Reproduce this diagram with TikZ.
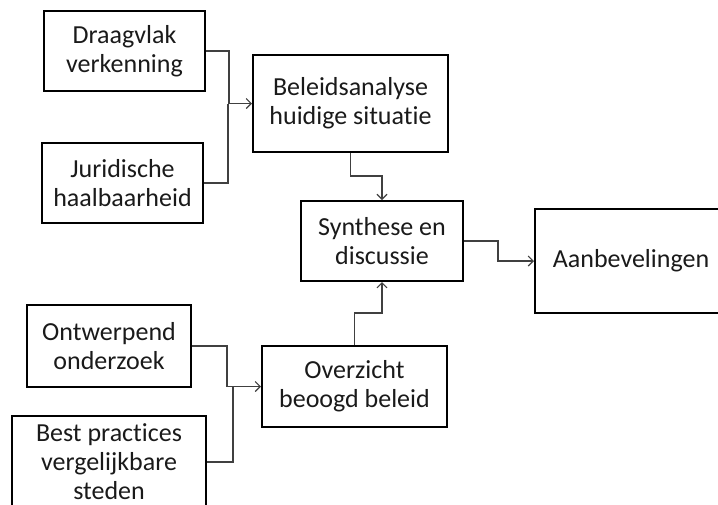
\documentclass[tikz,border=0pt]{standalone}
\usepackage{fontspec}
\setmainfont{Carlito}[Ligatures=NoCommon]
\usetikzlibrary{arrows.meta}
\definecolor{txt}{HTML}{1A1A1A}
\definecolor{conn}{HTML}{404040}
\tikzset{
  box/.style={draw=black, line width=2pt, inner sep=0pt, align=center,
    font=\fontsize{26}{29}\selectfont, text=txt},
  link/.style={draw=conn, line width=1.1pt},
  arr/.style={link, -{Straight Barb[length=5pt,width=10pt,line width=1.1pt]}}
}
\begin{document}
\begin{tikzpicture}[x=1pt,y=-1pt]
\useasboundingbox (0,0) rectangle (718,504);
\clip (0,0) rectangle (718,504);
\node[box, minimum width=161pt, minimum height=80pt] (dv) at (124.5,51) {Draagvlak\\verkenning};
\node[box, minimum width=161pt, minimum height=80pt] (jh) at (122.5,183) {Juridische\\haalbaarheid};
\node[box, minimum width=195pt, minimum height=97pt] (ba) at (350.5,103.5) {Beleidsanalyse\\huidige situatie};
\node[box, minimum width=162pt, minimum height=80pt] (sd) at (382,241) {Synthese en\\discussie};
\node[box, minimum width=192pt, minimum height=104pt] (ab) at (631,261) {Aanbevelingen};
\node[box, minimum width=164pt, minimum height=82pt] (oo) at (109,346) {Ontwerpend\\onderzoek};
\node[box, minimum width=194pt, minimum height=92pt] (bp) at (109,462) {Best practices\\vergelijkbare\\steden};
\node[box, minimum width=185pt, minimum height=81pt] (ob) at (354.5,386.5) {Overzicht\\beoogd beleid};
\coordinate (j1) at (229,103.5);
\coordinate (j1b) at (228,103.5);
\coordinate (m1) at (366,176);
\coordinate (m2) at (498,250);
\coordinate (m3) at (370,313);
\coordinate (j2) at (227,386.5);
\coordinate (j2b) at (233,386.5);
\draw[arr] (dv.east) -| (j1) -- (ba.west);
\draw[link] (jh.east) -| (j1b);
\draw[arr] (ba.south) |- (m1) -| (sd.north);
\draw[arr] (sd.east) -| (m2) |- (ab.west);
\draw[arr] (ob.north) |- (m3) -| (sd.south);
\draw[arr] (oo.east) -| (j2) -- (ob.west);
\draw[link] (bp.east) -| (j2b);
\end{tikzpicture}
\end{document}
